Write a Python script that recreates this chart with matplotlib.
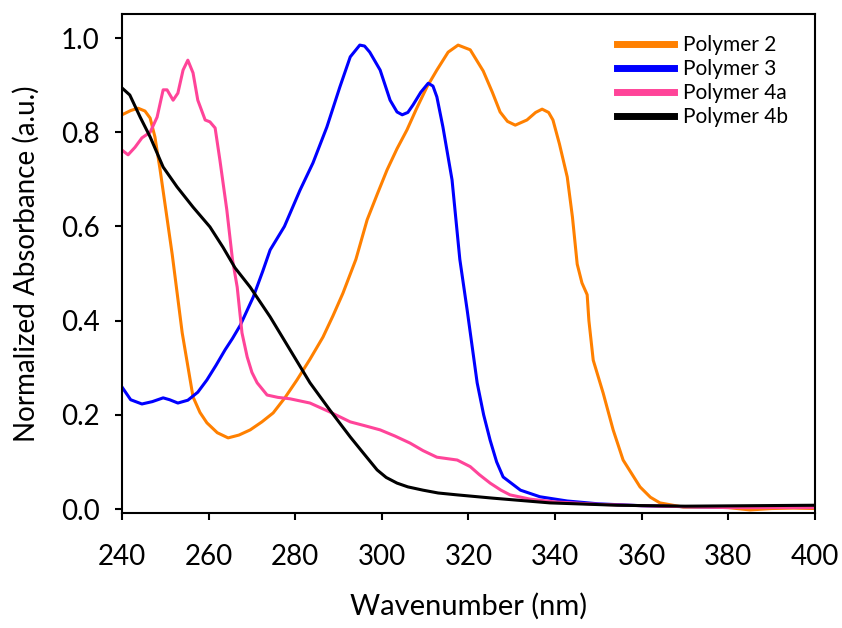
import matplotlib
matplotlib.use("Agg")
import matplotlib.pyplot as plt

plt.rcParams['font.family'] = ['Lato', 'DejaVu Sans']

# Polymer 2 (orange)
p2_x = [240, 242, 243.7, 245.3, 246.5, 247.6, 248.8, 250.2, 251.6, 253.9, 256.4, 258,
        259.6, 262, 264.5, 267, 269.6, 272.3, 274.9, 277.6, 280.4, 283.4, 286.4, 288.7,
        291, 294, 296.6, 299, 301.2, 303.5, 305.8, 308, 310.4, 312.7, 315.3, 317.6, 320.4,
        323.4, 325.5, 327.3, 329, 330.8, 333.5, 335.5, 337, 338.5, 339.5, 341, 342.8, 344,
        345.1, 346.2, 347.4, 347.8, 348.8, 351.1, 353.4, 355.7, 359.6, 362, 364.2, 369.6,
        375, 380, 385, 390, 395, 400]
p2_y = [0.837, 0.846, 0.851, 0.845, 0.83, 0.79, 0.72, 0.63, 0.54, 0.374, 0.238, 0.205,
        0.183, 0.162, 0.151, 0.157, 0.168, 0.185, 0.204, 0.236, 0.274, 0.318, 0.365, 0.41,
        0.458, 0.53, 0.614, 0.67, 0.72, 0.765, 0.805, 0.85, 0.896, 0.932, 0.97, 0.985, 0.975,
        0.93, 0.885, 0.843, 0.823, 0.815, 0.826, 0.842, 0.849, 0.842, 0.826, 0.775, 0.705,
        0.62, 0.52, 0.48, 0.455, 0.40, 0.316, 0.246, 0.168, 0.104, 0.047, 0.025, 0.013,
        0.004, 0.004, 0.003, -0.002, 0.001, 0.002, 0.001]

# Polymer 3 (blue)
p3_x = [240, 242, 244.6, 247, 249.5, 251, 252.9, 255.2, 257.5, 259.6, 261.7, 263.8, 265.5,
        267.3, 270.3, 272.5, 274.2, 277.5, 281.1, 284.1, 287.3, 290.3, 292.7, 294.9, 296,
        297.2, 299.6, 301.9, 303.5, 304.7, 306, 307.2, 309, 310.7, 311.8, 312.7, 314.1,
        316.2, 318, 319.7, 322, 323.5, 325, 326.5, 328, 332, 336.5, 342.8, 350, 360, 370,
        380, 390, 400]
p3_y = [0.259, 0.232, 0.223, 0.228, 0.236, 0.232, 0.225, 0.231, 0.248, 0.274, 0.305,
        0.338, 0.362, 0.39, 0.45, 0.505, 0.55, 0.6, 0.677, 0.735, 0.811, 0.896, 0.96, 0.985,
        0.983, 0.97, 0.932, 0.868, 0.843, 0.837, 0.842, 0.858, 0.885, 0.904, 0.898, 0.875,
        0.811, 0.699, 0.53, 0.422, 0.268, 0.2, 0.146, 0.1, 0.068, 0.04, 0.026, 0.017,
        0.011, 0.007, 0.005, 0.004, 0.004, 0.004]

# Polymer 4a (pink)
p4a_x = [240, 241.4, 243, 244.6, 246.5, 248.1, 249.5, 250.4, 251.8, 252.9, 254.1, 255.2,
         256.4, 257.5, 259.2, 260.3, 261.5, 262.6, 264.2, 265.5, 266.6, 267.7, 268.9, 270,
         271.2, 273.5, 276, 278.8, 283.4, 288, 292.7, 296, 299.6, 303, 306.5, 309.5, 312.7,
         317.4, 320.4, 322.5, 325, 327.5, 329.6, 334.2, 340, 350, 360, 370, 380, 390, 400]
p4a_y = [0.762, 0.752, 0.768, 0.788, 0.8, 0.832, 0.89, 0.89, 0.868, 0.883, 0.932, 0.953,
         0.926, 0.868, 0.826, 0.822, 0.809, 0.741, 0.635, 0.53, 0.471, 0.374, 0.323, 0.29,
         0.268, 0.242, 0.237, 0.234, 0.225, 0.206, 0.185, 0.177, 0.168, 0.155, 0.14, 0.124,
         0.11, 0.104, 0.09, 0.073, 0.055, 0.04, 0.03, 0.021, 0.015, 0.01, 0.007, 0.005,
         0.003, 0.003, 0.003]

# Polymer 4b (black)
p4b_x = [240, 241.8, 244.2, 246.5, 249.5, 252.7, 256.4, 260.3, 263.3, 266.1, 269.6, 274.2,
         278.8, 283.4, 288, 292.7, 295.7, 298.9, 301, 303.5, 306, 309.5, 313, 317.4, 325.7,
         338.8, 354.3, 370, 385, 400]
p4b_y = [0.894, 0.879, 0.832, 0.79, 0.726, 0.684, 0.641, 0.599, 0.556, 0.512, 0.471,
         0.408, 0.338, 0.268, 0.21, 0.153, 0.119, 0.083, 0.067, 0.055, 0.047, 0.04, 0.034,
         0.03, 0.023, 0.013, 0.008, 0.006, 0.007, 0.008]

series = [
    ("Polymer 2", p2_x, p2_y, "#FF8000"),
    ("Polymer 3", p3_x, p3_y, "#0000FF"),
    ("Polymer 4a", p4a_x, p4a_y, "#FF4499"),
    ("Polymer 4b", p4b_x, p4b_y, "#000000"),
]

fig = plt.figure(figsize=(8.42, 6.28), dpi=100)
ax = fig.add_axes([0.1449, 0.1831, 0.8230, 0.7946])

for label, xs, ys, color in series:
    ax.plot(xs, ys, color=color, lw=2.2, label=label, solid_joinstyle="round")

ax.set_xlim(240, 400)
ax.set_ylim(-0.0085, 1.051)
ax.set_xticks(range(240, 401, 20))
ax.set_yticks([0.0, 0.2, 0.4, 0.6, 0.8, 1.0])
ax.set_yticklabels(["0.0", "0.2", "0.4", "0.6", "0.8", "1.0"])
ax.tick_params(direction="out", length=5, width=1.5, labelsize=20, colors="black")
ax.tick_params(axis="x", pad=17)
ax.tick_params(axis="y", pad=11)
for s in ax.spines.values():
    s.set_linewidth(1.5)

ax.set_xlabel("Wavenumber (nm)", fontsize=21, labelpad=17)
ax.set_ylabel("Normalized Absorbance (a.u.)", fontsize=20, labelpad=15)

leg = ax.legend(loc="upper left", bbox_to_anchor=(0.714, 0.958), frameon=False,
                fontsize=15, handlelength=2.75, handletextpad=0.45, labelspacing=0.2,
                borderpad=0, borderaxespad=0)
for h in leg.get_lines():
    h.set_linewidth(5)

fig.savefig("out.png", dpi=100)
